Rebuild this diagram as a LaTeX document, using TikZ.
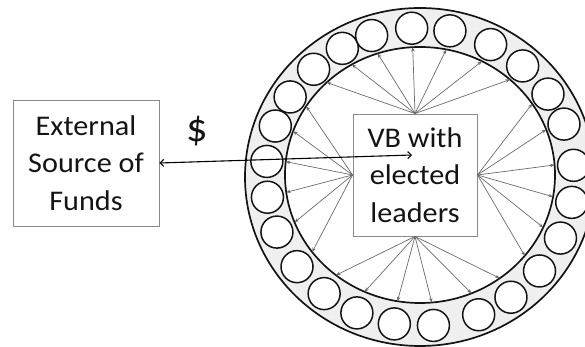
\documentclass[tikz,border=0pt]{standalone}
\usepackage{fontspec}
\newfontfamily\lbl[FakeStretch=1.06]{Carlito}
\usetikzlibrary{arrows.meta}
\definecolor{ringgray}{HTML}{EFEFEF}
\definecolor{spokegray}{HTML}{6A6A6A}
\definecolor{boxgray}{HTML}{8A8A8A}
\definecolor{inkc}{HTML}{141414}
\begin{document}
\begin{tikzpicture}[x=1pt,y=1pt,
  box/.style={draw=boxgray, line width=0.9pt, align=center,
    font=\lbl\fontsize{28.5}{37.5}\selectfont, text=inkc, inner sep=0pt},
  ring/.style={draw=inkc, line width=1.7pt},
  smallc/.style={draw=inkc, fill=white, line width=1.5pt},
  spoke/.style={draw=spokegray, line width=0.7pt,
    -{Stealth[length=4.5pt,width=3.5pt]}},
  dbl/.style={draw=black, line width=1.1pt,
    {Straight Barb[length=3.5pt,width=7pt]}-{Straight Barb[length=3.5pt,width=7pt]}}]
\useasboundingbox (0,0) rectangle (585,347);
\clip (0,0) rectangle (585,347);
% ring
\fill[ringgray, even odd rule] (420,170) ellipse [x radius=175, y radius=169]
  (420,172) ellipse [x radius=135, y radius=128];
\draw[ring] (420,170) ellipse [x radius=175, y radius=169];
\draw[ring] (420,172) ellipse [x radius=135, y radius=128];
% small circles
\foreach \a in {93.1,78.8,62.7,48.2,33.8,20.8,4.5,-9.8,-24.2,-39.1,-53.8,-67.6,-85,-99.6,-114.2,-128.5,-143,-158.3,-172.2,174,160,147.5,133.7,120.3,108.3}
  \draw[smallc] ([shift={(420,170)}]\a:154pt and 149pt) circle [radius=16];
% boxes
\node[box, minimum width=124, minimum height=122] (vb) at (415,172) {VB with\\elected\\leaders};
\node[box, minimum width=146, minimum height=126] (src) at (86,184) {External\\Source of\\Funds};
\node[font=\lbl\fontsize{40}{44}\selectfont, text=inkc, inner sep=0pt] (dollar) at (197,216) {\$};
% spokes
\foreach \a in {133.7,120.3,108.3,93.1,78.8,62.7,48.2}
  \draw[spoke] (vb.north) -- ([shift={(420,172)}]\a:135pt and 128pt);
\foreach \a in {33.8,20.8,4.5,-9.8,-24.2,-39.1}
  \draw[spoke] (vb.east) -- ([shift={(420,172)}]\a:135pt and 128pt);
\foreach \a in {-53.8,-67.6,-85,-99.6,-114.2,-128.5}
  \draw[spoke] (vb.south) -- ([shift={(420,172)}]\a:135pt and 128pt);
\foreach \a in {-143,-158.3,-172.2,174,160,147.5}
  \draw[spoke] (vb.west) -- ([shift={(420,172)}]\a:135pt and 128pt);
% funds arrow
\coordinate (fend) at (412,192);
\draw[dbl] (src.east) -- (fend);
\end{tikzpicture}
\end{document}
